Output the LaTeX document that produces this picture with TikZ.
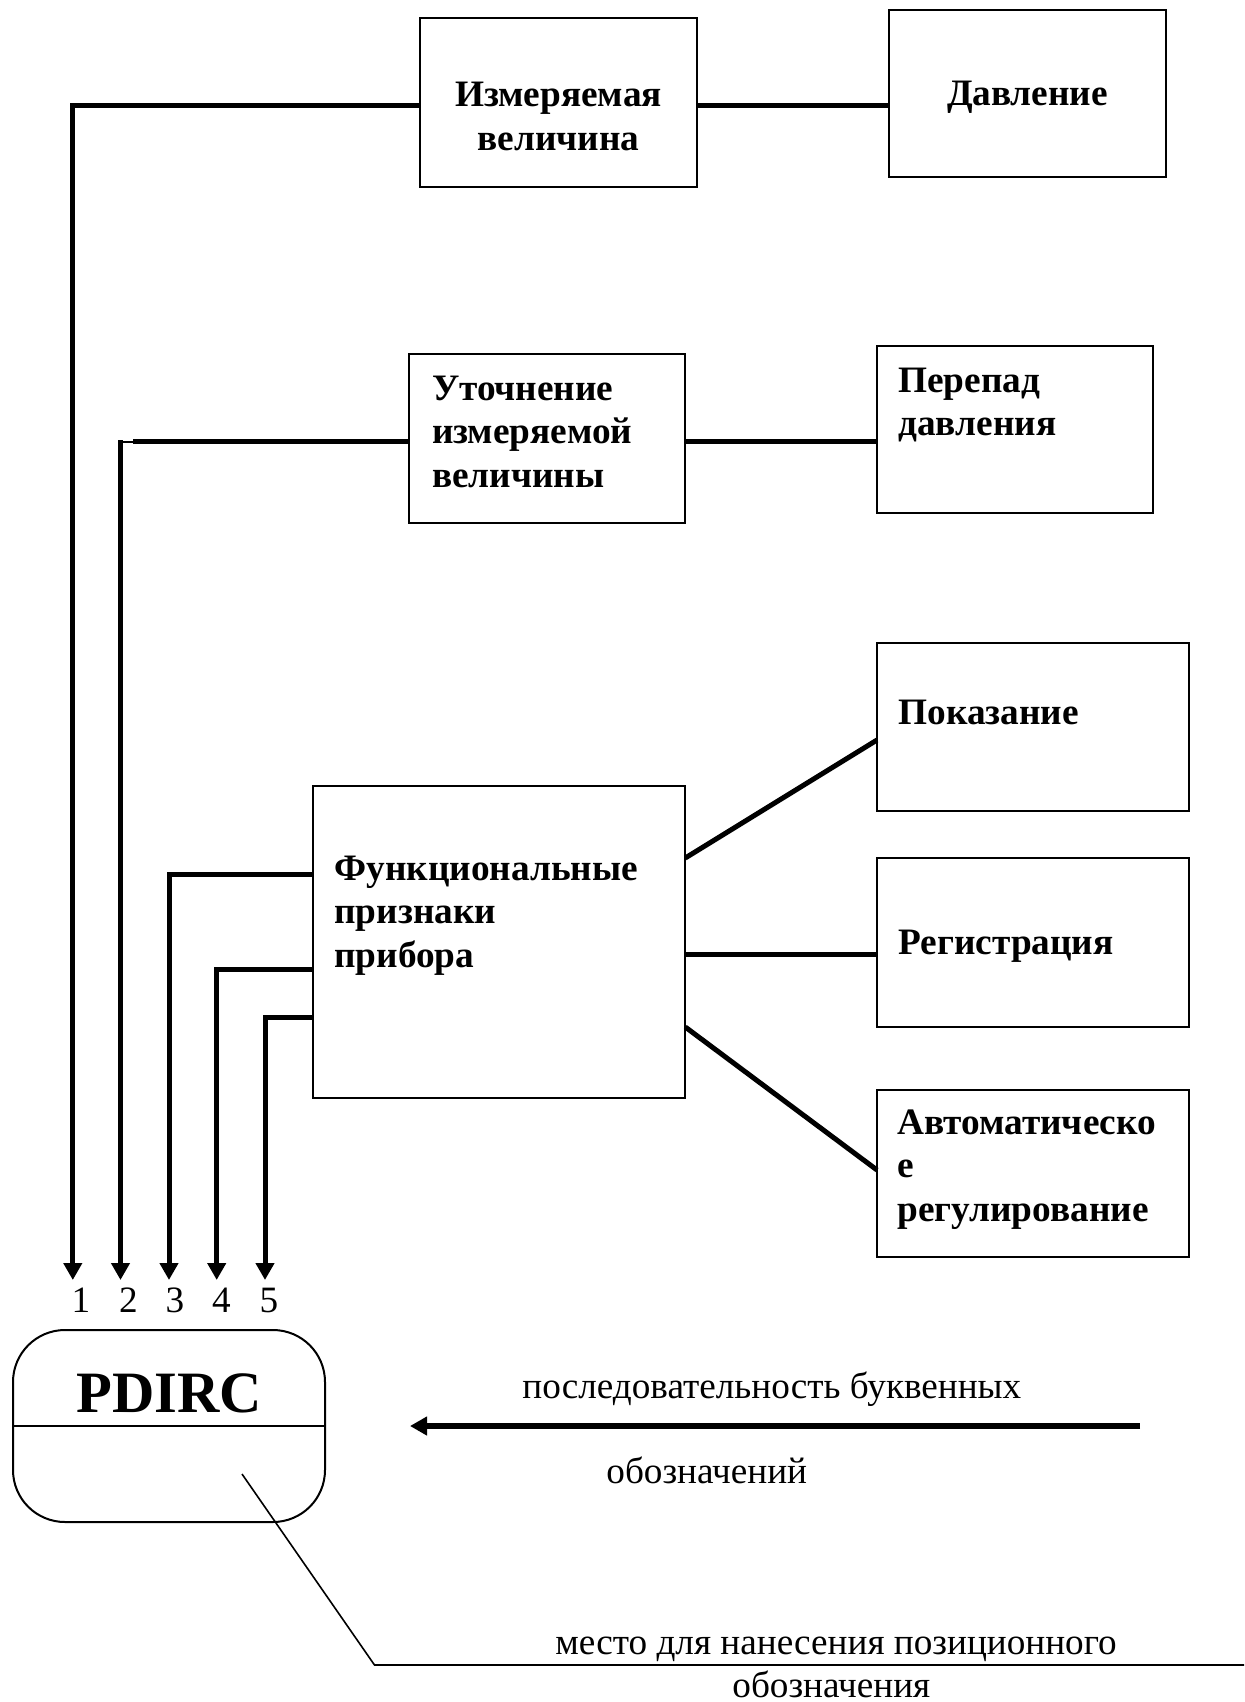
\documentclass[tikz,border=0pt]{standalone}
\usepackage{fontspec}
\setmainfont{Liberation Serif}
\usetikzlibrary{arrows.meta}
\begin{document}
\begin{tikzpicture}[x=0.5pt,y=-0.5pt,
  box/.style={draw, line width=1pt, rectangle, inner sep=0, outer sep=0},
  conn/.style={line width=2.5pt},
  arr/.style={conn, -{Triangle[length=8.5pt,width=9pt]}},
  bt/.style={inner sep=0, font=\fontsize{18.65}{21.75}\selectfont\bfseries},
  nt/.style={inner sep=0, font=\fontsize{18.6}{21.75}\selectfont},
]
\useasboundingbox (0,0) rectangle (1244,1702);

% boxes
\node[box, minimum width=138.5pt, minimum height=84.2pt] (b1) at (558.5,102.5) {};
\node[box, minimum width=138.5pt, minimum height=83.5pt] (b2) at (1027.5,93.5) {};
\node[box, minimum width=138.25pt, minimum height=84.35pt] (b3) at (547,438.3) {};
\node[box, minimum width=138pt, minimum height=83.5pt] (b4) at (1015,429.5) {};
\node[box, minimum width=186.25pt, minimum height=156pt] (b5) at (499,942) {};
\node[box, minimum width=156pt, minimum height=84pt] (b6) at (1033,727) {};
\node[box, minimum width=156pt, minimum height=84.5pt] (b7) at (1033,942.5) {};
\node[box, minimum width=156pt, minimum height=83.5pt] (b8) at (1033,1173.5) {};
\node[box, rounded corners=26pt, minimum width=156pt, minimum height=96pt] (pd) at (169,1426) {};
\draw[line width=1pt] (pd.west) -- (pd.east);

% box texts
\node[bt, anchor=base] (t1a) at (558.5,106) {Измеряемая};
\node[bt, anchor=base] (t1b) at (558.5,150) {величина};
\node[bt, anchor=base] (t2) at (1027.5,105) {Давление};
\node[bt, anchor=base west] (t3a) at (431.6,400) {Уточнение};
\node[bt, anchor=base west] (t3b) at (431.6,443.5) {измеряемой};
\node[bt, anchor=base west] (t3c) at (431.6,487) {величины};
\node[bt, anchor=base west] (t4a) at (898,392) {Перепад};
\node[bt, anchor=base west] (t4b) at (898,435.5) {давления};
\node[bt, anchor=base west] (t5a) at (334,880) {Функциональные};
\node[bt, anchor=base west] (t5b) at (334,923.5) {признаки};
\node[bt, anchor=base west] (t5c) at (334,967) {прибора};
\node[bt, anchor=base west] (t6) at (898,724) {Показание};
\node[bt, anchor=base west] (t7) at (898,954) {Регистрация};
\node[bt, anchor=base west] (t8a) at (897,1134) {Автоматическо};
\node[bt, anchor=base west] (t8b) at (897,1177.5) {е};
\node[bt, anchor=base west] (t8c) at (897,1221) {регулирование};

\node[inner sep=0, font=\fontsize{29.3}{34}\selectfont\bfseries, anchor=base] (pdt) at (169,1412) {PDIRC};

% digits
\node[nt, anchor=base] (n1) at (81,1312) {1};
\node[nt, anchor=base] (n2) at (128.5,1312) {2};
\node[nt, anchor=base] (n3) at (175,1312) {3};
\node[nt, anchor=base] (n4) at (221.5,1312) {4};
\node[nt, anchor=base] (n5) at (269,1312) {5};

% bottom texts
\node[nt, anchor=base west] (s1) at (522,1398) {последовательность буквенных};
\node[nt, anchor=base west] (s2) at (606,1483) {обозначений};
\node[nt, anchor=base west] (s3) at (555,1654) {место для нанесения позиционного};
\node[nt, anchor=base west] (s4) at (732,1697) {обозначения};

% coordinates
\coordinate (k1) at (72.8,106);   \coordinate (e1) at (72.8,1280);
\coordinate (k2a) at (133,441.5); \coordinate (k2) at (120.5,441.5); \coordinate (e2) at (120.5,1280);
\coordinate (k3) at (169,874);    \coordinate (e3) at (169,1280);
\coordinate (k4) at (216.7,969.5);\coordinate (e4) at (216.7,1280);
\coordinate (k5) at (265,1017.5); \coordinate (e5) at (265,1280);
\coordinate (y6a) at (0,858);  \coordinate (y6b) at (0,740);
\coordinate (y7) at (0,954);
\coordinate (y8a) at (0,1027); \coordinate (y8b) at (0,1170);

% connectors
\draw[arr] (b1.west |- k1) -- (k1) -- (e1);
\draw[conn] (b1.east |- k1) -- (b2.west |- k1);
\draw[conn] (b3.west |- k2a) -- (k2a);
\draw[line width=1pt] (k2a) -- (k2);
\draw[arr] ([yshift=0.75pt]k2) -- (e2);
\draw[conn] (b3.east |- k2) -- (b4.west |- k2);
\draw[arr] (b5.west |- k3) -- (k3) -- (e3);
\draw[arr] (b5.west |- k4) -- (k4) -- (e4);
\draw[arr] (b5.west |- k5) -- (k5) -- (e5);
\draw[conn] (b5.east |- y6a) -- (b6.west |- y6b);
\draw[conn] (b5.east |- y7) -- (b7.west |- y7);
\draw[conn] (b5.east |- y8a) -- (b8.west |- y8b);

% sequence arrow
\coordinate (ar1) at (1140,1426); \coordinate (ar2) at (410,1426);
\draw[arr, line width=2.75pt] (ar1) -- (ar2);

% leader
\coordinate (l0) at (242,1474); \coordinate (l1) at (374.5,1665); \coordinate (l2) at (1244,1665);
\draw[line width=0.8pt] (l0) -- (l1) -- (l2);
\end{tikzpicture}
\end{document}
